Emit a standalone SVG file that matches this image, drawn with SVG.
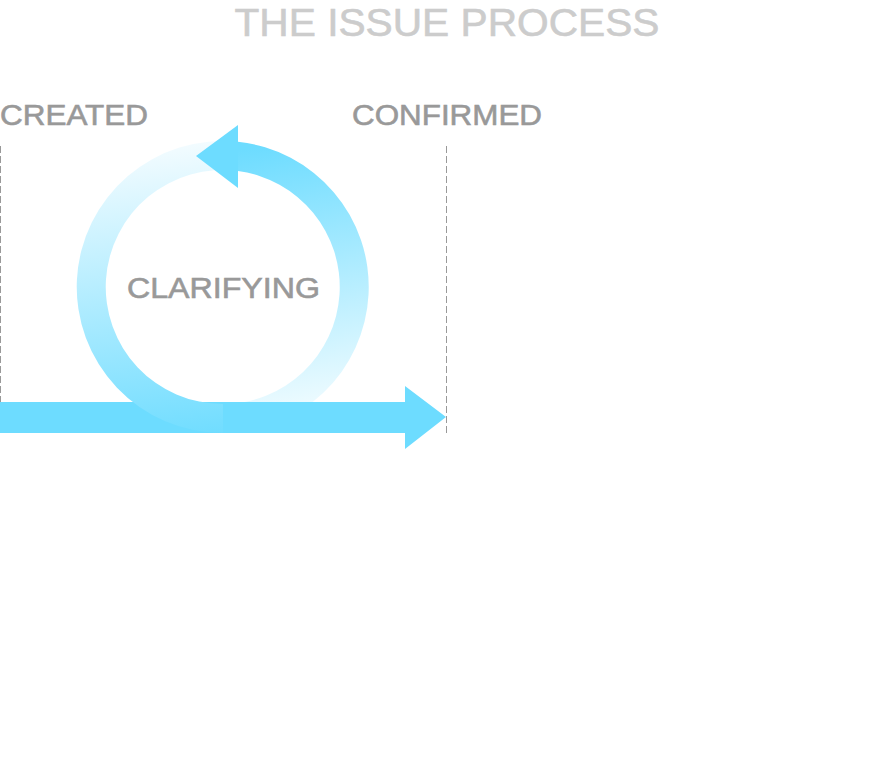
<svg xmlns="http://www.w3.org/2000/svg" width="894" height="760" viewBox="0 0 894 760">
<style>
.lbl{font-family:"Liberation Sans","Open Sans",sans-serif;fill:#999999;stroke:#999999;stroke-width:0.6;font-size:29px}
.title{font-family:"Liberation Sans","Open Sans",sans-serif;fill:#cccccc;stroke:#cccccc;stroke-width:0.6;font-size:39px}
.dash{stroke:#999999;stroke-width:1;stroke-dasharray:7 3;fill:none}
.blue{fill:#6ddcff}
</style>
<defs>
<linearGradient id="gR" gradientUnits="userSpaceOnUse" x1="240" y1="150" x2="290" y2="420">
<stop offset="0" stop-color="#6ddcff"/>
<stop offset="1" stop-color="#f2fcff"/>
</linearGradient>
<linearGradient id="gL" gradientUnits="userSpaceOnUse" x1="190" y1="140" x2="225" y2="440">
<stop offset="0" stop-color="#f4fcff"/>
<stop offset="1" stop-color="#6ddcff"/>
</linearGradient>
</defs>
<rect width="894" height="760" fill="#ffffff"/>
<text class="title" x="447" y="36" text-anchor="middle" textLength="425" lengthAdjust="spacingAndGlyphs">THE ISSUE PROCESS</text>
<g id="connectors">
<line class="dash" x1="0.5" y1="146" x2="0.5" y2="433"/>
<line class="dash" x1="446.5" y1="146" x2="446.5" y2="433"/>
<path d="M238,141.8 A146,146 0 0 1 223,433 L223,404 A117,117 0 0 0 238,171 Z" fill="url(#gR)"/>
<polygon class="blue" points="0,402 405,402 405,386 446,417 405,449 405,433 0,433"/>
<path d="M238,141.8 A146,146 0 1 0 223,433 L223,404 A117,117 0 1 1 238,171 Z" fill="url(#gL)"/>
<polygon class="blue" points="196,156 238,125 238,188"/>
</g>
<g id="created"><text class="lbl" x="0" y="125" textLength="148" lengthAdjust="spacingAndGlyphs">CREATED</text></g>
<g id="confirmed"><text class="lbl" x="352" y="125" textLength="190" lengthAdjust="spacingAndGlyphs">CONFIRMED</text></g>
<g id="clarifying"><text class="lbl" x="127" y="298" textLength="193" lengthAdjust="spacingAndGlyphs">CLARIFYING</text></g>
</svg>
